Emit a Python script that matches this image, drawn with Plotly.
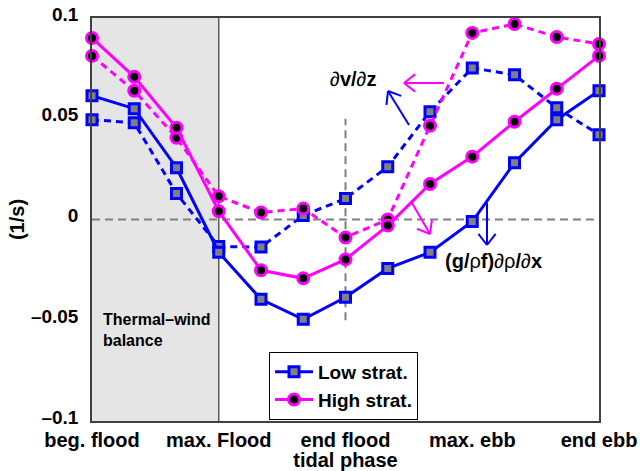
import math
import plotly.graph_objects as go

# ---------------- data ----------------
phase = list(range(13))
xtick_pos = [0, 3, 6, 9, 12]
xtick_labels = ["beg. flood", "max. Flood", "end flood", "max. ebb", "end ebb"]
ytick_vals = [0.1, 0.05, 0, -0.05, -0.1]
ytick_text = ["0.1", "0.05", "0", "\u20130.05", "\u20130.1"]

low_solid = [0.0614, 0.0550, 0.0257, -0.0163, -0.0396, -0.0495, -0.0386,
             -0.0243, -0.0163, -0.0010, 0.0282, 0.0495, 0.0639]
low_dash = [0.0495, 0.0480, 0.0129, -0.0134, -0.0137, 0.0020, 0.0104,
            0.0262, 0.0535, 0.0752, 0.0718, 0.0554, 0.0421]
high_solid = [0.0901, 0.0708, 0.0455, 0.0041, -0.0252, -0.0292, -0.0198,
              -0.0030, 0.0176, 0.0312, 0.0485, 0.0649, 0.0812]
high_dash = [0.0812, 0.0639, 0.0406, 0.0115, 0.0035, 0.0054, -0.0089,
             0.0000, 0.0465, 0.0926, 0.0970, 0.0906, 0.0871]

BLUE = "rgb(0,0,255)"
MAG = "rgb(255,0,255)"
FONT = "Liberation Sans, Arial, Helvetica, sans-serif"

# plot-area geometry in pixels
W, H = 643, 471
L, R, T, B = 92, 599, 18, 421


def to_paper(px, py):
    return (px - L) / (R - L), (B - py) / (B - T)


blue_marker = dict(symbol="square", size=10, color="rgb(128,128,128)",
                   line=dict(color=BLUE, width=3))
mag_marker = dict(symbol="circle", size=11, color="black",
                  line=dict(color=MAG, width=3))

fig = go.Figure()
fig.add_trace(go.Scatter(x=phase, y=low_dash, mode="lines+markers",
                         line=dict(color=BLUE, width=3, dash="7px,5px"),
                         marker=blue_marker, showlegend=False, cliponaxis=False))
fig.add_trace(go.Scatter(x=phase, y=low_solid, mode="lines+markers", name="Low strat.",
                         line=dict(color=BLUE, width=3),
                         marker=blue_marker, cliponaxis=False))
fig.add_trace(go.Scatter(x=phase, y=high_dash, mode="lines+markers",
                         line=dict(color=MAG, width=3, dash="7px,5px"),
                         marker=mag_marker, showlegend=False, cliponaxis=False))
fig.add_trace(go.Scatter(x=phase, y=high_solid, mode="lines+markers", name="High strat.",
                         line=dict(color=MAG, width=3),
                         marker=mag_marker, cliponaxis=False))

shapes = []
# shaded thermal-wind region
shapes.append(dict(type="rect", xref="x", yref="y", x0=0, x1=3, y0=-0.1, y1=0.1,
                   fillcolor="rgb(229,229,229)", line=dict(width=0), layer="below"))
shapes.append(dict(type="line", xref="x", yref="y", x0=3, x1=3, y0=-0.1, y1=0.1,
                   line=dict(color="rgb(90,90,90)", width=1.5), layer="below"))
# zero line
shapes.append(dict(type="line", xref="x", yref="y", x0=0, x1=12, y0=0, y1=0,
                   line=dict(color="rgb(128,128,128)", width=2, dash="8px,5px"), layer="below"))
# vertical dashed line at end flood
shapes.append(dict(type="line", xref="x", yref="y", x0=6, x1=6, y0=-0.05, y1=0.05,
                   line=dict(color="rgb(128,128,128)", width=2, dash="8px,5px"), layer="below"))


def arrow(tail, head, color):
    (tx, ty), (hx, hy) = tail, head
    dx, dy = hx - tx, hy - ty
    n = math.hypot(dx, dy)
    ux, uy = dx / n, dy / n
    out = []
    p0 = to_paper(tx, ty)
    p1 = to_paper(hx, hy)
    out.append(dict(type="line", xref="paper", yref="paper", x0=p0[0], y0=p0[1],
                    x1=p1[0], y1=p1[1], line=dict(color=color, width=2)))
    ln, th = 14, math.radians(38)
    for s in (1, -1):
        c, si = math.cos(s * th), math.sin(s * th)
        rx = ux * c - uy * si
        ry = ux * si + uy * c
        ax, ay = hx - ln * rx, hy - ln * ry
        pa = to_paper(ax, ay)
        out.append(dict(type="line", xref="paper", yref="paper", x0=p1[0], y0=p1[1],
                        x1=pa[0], y1=pa[1], line=dict(color=color, width=2)))
    return out


shapes += arrow((409, 125), (388, 91), BLUE)
shapes += arrow((444, 83), (404, 83), MAG)
shapes += arrow((412, 203), (430, 234), MAG)
shapes += arrow((487, 203), (487, 245), BLUE)

annotations = []
ax_, ay_ = to_paper(353, 79)
annotations.append(dict(xref="paper", yref="paper", x=ax_, y=ay_, showarrow=False,
                        yanchor="middle",
                        text="\u2202<b>v/</b>\u2202<b>z</b>",
                        font=dict(family=FONT, size=20, color="black")))
ax_, ay_ = to_paper(443, 261)
annotations.append(dict(xref="paper", yref="paper", x=ax_, y=ay_, showarrow=False,
                        xanchor="left", yanchor="middle",
                        text="<b>(g/</b>\u03c1<b>f)</b>\u2202\u03c1<b>/</b>\u2202<b>x</b>",
                        font=dict(family=FONT, size=20, color="black")))
ax_, ay_ = to_paper(101, 330)
annotations.append(dict(xref="paper", yref="paper", x=ax_, y=ay_, showarrow=False,
                        xanchor="left", yanchor="middle", align="left",
                        text="<b>Thermal\u2013wind<br>balance</b>",
                        font=dict(family=FONT, size=16, color="black")))

lx, ly = to_paper(269, 420)

fig.update_layout(
    width=W, height=H,
    margin=dict(l=L, r=W - R, t=T, b=H - B, autoexpand=False),
    plot_bgcolor="white", paper_bgcolor="white",
    font=dict(family=FONT, color="black"),
    shapes=shapes, annotations=annotations,
    legend=dict(x=lx, y=ly, xanchor="left", yanchor="bottom",
                bgcolor="white", bordercolor="black", borderwidth=1,
                itemwidth=38,
                font=dict(family=FONT, size=19, color="black", weight="bold"),
                tracegroupgap=0),
    xaxis=dict(range=[0, 12], tickvals=xtick_pos, ticktext=xtick_labels,
               automargin=False,
               showgrid=False, zeroline=False, showline=True, mirror=True,
               linecolor="rgb(64,64,64)", linewidth=1.5, ticks="",
               ticklabelstandoff=0,
               tickfont=dict(family=FONT, size=20, color="black", weight="bold"),
               title=dict(text="<b>tidal phase</b>", standoff=4,
                          font=dict(family=FONT, size=20, color="black"))),
    yaxis=dict(range=[-0.1, 0.1], tickvals=ytick_vals, ticktext=ytick_text,
               automargin=False,
               showgrid=False, zeroline=False, showline=True, mirror=True,
               linecolor="rgb(64,64,64)", linewidth=1.5, ticks="",
               ticklabelstandoff=8, ticklabelshift=-4,
               tickfont=dict(family=FONT, size=19, color="black", weight="bold"),
               title=dict(text="<b>(1/s)</b>", standoff=1,
                          font=dict(family=FONT, size=20, color="black"))),
)

fig.write_html("out.html")
